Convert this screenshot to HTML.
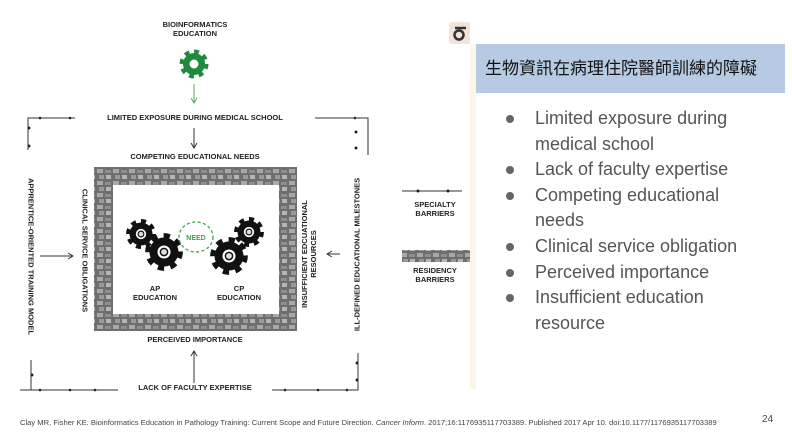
<!DOCTYPE html>
<html><head><meta charset="utf-8"><style>
body{margin:0;width:792px;height:435px;background:#fff;position:relative;overflow:hidden;font-family:"Liberation Sans",sans-serif}
.t{position:absolute;font-family:"Liberation Sans",sans-serif;font-weight:bold;font-size:7.5px;color:#222;white-space:nowrap;text-align:center;line-height:9px}
.title{position:absolute;left:476px;top:44px;width:309px;height:49px;background:#b7cae3;font-family:"Liberation Sans","Noto Sans CJK TC",sans-serif;font-size:17px;line-height:49px;padding-left:9px;box-sizing:border-box;color:#111}
ul{position:absolute;left:535px;top:106px;margin:0;padding:0;width:208px;font-size:18px;line-height:25.6px;color:#555;list-style:none}
li{position:relative}
li::before{content:"";position:absolute;left:-29px;top:9px;width:8px;height:8px;border-radius:50%;background:#666}
.foot{position:absolute;left:20px;top:418px;font-size:7.6px;color:#444;white-space:nowrap}
</style></head><body>
<svg width="470" height="435" style="position:absolute;left:0;top:0">
<defs>
<pattern id="st" width="16" height="12" patternUnits="userSpaceOnUse">
<rect width="16" height="12" fill="#6e6e6e"/>
<rect x="1" y="1" width="6" height="4" fill="#a8a8a8"/>
<rect x="9" y="2" width="6" height="3" fill="#8e8e8e"/>
<rect x="3" y="7" width="5" height="4" fill="#999"/>
<rect x="10" y="7" width="5" height="4" fill="#b5b5b5"/>
</pattern>
<g id="gear"><circle r="10" fill="none" stroke="#111" stroke-width="6" stroke-dasharray="3.9 3.9"/><circle r="10" fill="#111"/><circle r="4.5" fill="#fff"/><circle r="3" fill="#111"/><circle r="2" fill="#ddd"/></g>
</defs>
<g transform="translate(194,64)"><circle r="11" fill="none" stroke="#1f8a3b" stroke-width="7" stroke-dasharray="4.3 4.3"/><circle r="11" fill="#1f8a3b"/><circle r="4.5" fill="#fff"/></g>
<line x1="194" y1="84" x2="194" y2="102" stroke="#4caf60" stroke-width="1"/><path d="M191,98 L194,103 L197,98" fill="none" stroke="#4caf60"/>
<g stroke="#333" stroke-width="1" fill="none">
<path d="M28,150 L28,118 L75,118"/><path d="M315,118 L368,118 L368,155"/>
<path d="M20,390 L118,390"/><path d="M272,390 L358,390 L358,353"/>
<path d="M31,360 L31,390"/>
<line x1="194" y1="128" x2="194" y2="147"/><path d="M191,143 L194,148 L197,143"/>
<line x1="194" y1="383" x2="194" y2="352"/><path d="M191,356 L194,351 L197,356"/>
<line x1="40" y1="256" x2="72" y2="256"/><path d="M68,253 L73,256 L68,259"/>
<line x1="328" y1="254" x2="340" y2="254"/><path d="M332,251 L327,254 L332,257"/>
<line x1="402" y1="191" x2="462" y2="191"/>
</g>
<g fill="#222">
<circle cx="29" cy="128" r="1.5"/><circle cx="29" cy="146" r="1.5"/><circle cx="40" cy="118" r="1.3"/><circle cx="70" cy="118" r="1.3"/>
<circle cx="355" cy="118" r="1.3"/><circle cx="356" cy="132" r="1.5"/><circle cx="356" cy="148" r="1.5"/>
<circle cx="32" cy="375" r="1.5"/><circle cx="40" cy="390" r="1.3"/><circle cx="70" cy="390" r="1.3"/><circle cx="95" cy="390" r="1.3"/>
<circle cx="285" cy="390" r="1.3"/><circle cx="318" cy="390" r="1.3"/><circle cx="347" cy="390" r="1.3"/><circle cx="357" cy="363" r="1.5"/><circle cx="357" cy="380" r="1.5"/>
<circle cx="418" cy="191" r="1.5"/><circle cx="448" cy="191" r="1.5"/>
</g>
<path d="M94,167 H297 V331 H94 Z M113,185 V314 H279 V185 Z" fill="url(#st)" fill-rule="evenodd"/>
<rect x="402" y="250" width="68" height="12" fill="url(#st)"/>
<use href="#gear" transform="translate(141,234) scale(1.15)"/>
<use href="#gear" transform="translate(164,252) scale(1.45)"/>
<use href="#gear" transform="translate(249,232) scale(1.15)"/>
<use href="#gear" transform="translate(229,256) scale(1.45)"/>
<ellipse cx="196" cy="237" rx="17" ry="15" fill="#fff" stroke="#3aa34f" stroke-width="1.3" stroke-dasharray="3 2.5"/>
<text x="196" y="240" font-family="Liberation Sans" font-weight="bold" font-size="7" fill="#3aa34f" text-anchor="middle">NEED</text>
<rect x="449" y="22" width="22" height="22" rx="3" fill="#f3e3d8"/>
<circle cx="459" cy="35" r="4.5" fill="none" stroke="#333" stroke-width="2.5"/>
<path d="M455,28 L466,28" stroke="#333" stroke-width="2.5"/>
</svg>
<div class="t" style="left:145px;top:20px;width:100px">BIOINFORMATICS<br>EDUCATION</div>
<div class="t" style="left:80px;top:113px;width:230px">LIMITED EXPOSURE DURING MEDICAL SCHOOL</div>
<div class="t" style="left:100px;top:152px;width:190px">COMPETING EDUCATIONAL NEEDS</div>
<div class="t" style="left:110px;top:335px;width:170px">PERCEIVED IMPORTANCE</div>
<div class="t" style="left:115px;top:383px;width:160px">LACK OF FACULTY EXPERTISE</div>
<div class="t" style="left:125px;top:284px;width:60px">AP<br>EDUCATION</div>
<div class="t" style="left:209px;top:284px;width:60px">CP<br>EDUCATION</div>
<div class="t" style="left:405px;top:200px;width:60px">SPECIALTY<br>BARRIERS</div>
<div class="t" style="left:405px;top:266px;width:60px">RESIDENCY<br>BARRIERS</div>
<div class="t" style="left:-64px;top:252px;width:190px;transform:rotate(90deg)">APPRENTICE-ORIENTED TRAINING MODEL</div>
<div class="t" style="left:10px;top:246px;width:150px;transform:rotate(90deg)">CLINICAL SERVICE OBLIGATIONS</div>
<div class="t" style="left:244px;top:245px;width:130px;transform:rotate(-90deg)">INSUFFICIENT EDCUATIONAL<br>RESOURCES</div>
<div class="t" style="left:262px;top:250px;width:190px;transform:rotate(-90deg)">ILL-DEFINED EDUCATIONAL MILESTONES</div>
<div style="position:absolute;left:470px;top:44px;width:6px;height:345px;background:#fdf6e8"></div>
<div class="title">生物資訊在病理住院醫師訓練的障礙</div>
<ul>
<li>Limited exposure during medical school</li>
<li>Lack of faculty expertise</li>
<li>Competing educational needs</li>
<li>Clinical service obligation</li>
<li>Perceived importance</li>
<li>Insufficient education resource</li>
</ul>
<div class="foot">Clay MR, Fisher KE. Bioinformatics Education in Pathology Training: Current Scope and Future Direction. <i>Cancer Inform</i>. 2017;16:1176935117703389. Published 2017 Apr 10. doi:10.1177/1176935117703389</div>
<div style="position:absolute;left:762px;top:414px;font-size:10px;color:#444">24</div>
</body></html>
